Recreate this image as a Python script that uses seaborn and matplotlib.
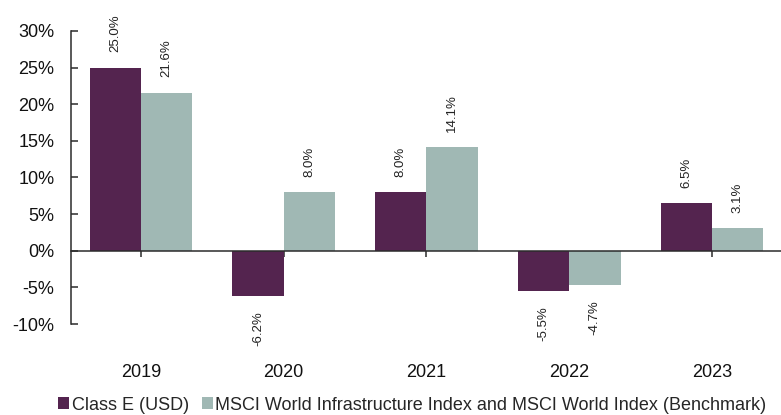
import matplotlib
matplotlib.use("Agg")
import matplotlib.pyplot as plt
import seaborn as sns
import pandas as pd
from matplotlib.patches import Patch
from matplotlib.transforms import blended_transform_factory

years = ["2019", "2020", "2021", "2022", "2023"]
class_e = [25.0, -6.2, 8.0, -5.5, 6.5]
benchmark = [21.6, 8.0, 14.1, -4.7, 3.1]
series_names = ["Class E (USD)",
                "MSCI World Infrastructure Index and MSCI World Index (Benchmark)"]
colors = ["#54244F", "#A0B8B4"]
yticks = [-10, -5, 0, 5, 10, 15, 20, 25, 30]

df = pd.DataFrame({
    "year": years * 2,
    "value": class_e + benchmark,
    "series": [series_names[0]] * len(years) + [series_names[1]] * len(years),
})

sns.set_style("white")
plt.rcParams["font.family"] = ["Liberation Sans", "DejaVu Sans"]

fig = plt.figure(figsize=(7.81, 4.15), dpi=100)
ax = fig.add_axes([71 / 781, 1 - 324 / 415, 710 / 781, 293 / 415])

sns.barplot(data=df, x="year", y="value", hue="series", palette=colors,
            width=0.72, ax=ax, legend=False, saturation=1, edgecolor="none")

for cont, vals in zip(ax.containers, [class_e, benchmark]):
    ax.bar_label(cont, labels=[f"{v:.1f}%" for v in vals], padding=11,
                 rotation=90, fontsize=9.5, color="#222222")

ax.set_xlim(-0.49, 4.484)
ax.set_ylim(-10, 30)
ax.set_yticks(yticks)
ax.set_yticklabels([f"{t}%" for t in yticks], fontsize=13)
ax.set_xlabel("")
ax.set_ylabel("")

for s in ["top", "right"]:
    ax.spines[s].set_visible(False)
ax.spines["left"].set_color("#2b2b2b")
ax.spines["left"].set_linewidth(1.1)
ax.spines["bottom"].set_position(("data", 0))
ax.spines["bottom"].set_color("#2b2b2b")
ax.spines["bottom"].set_linewidth(1.1)

ax.tick_params(axis="y", left=True, direction="in", length=5, width=1.1,
               color="#2b2b2b", pad=12, labelcolor="#111111")
ax.tick_params(axis="x", bottom=True, direction="out", length=4, width=1.1,
               color="#2b2b2b", labelbottom=False)
ax.set_xticks(range(len(years)))

trans = blended_transform_factory(ax.transData, ax.transAxes)
for i, y in enumerate(years):
    ax.text(i, -48 / 293, y, transform=trans, ha="center", va="center",
            fontsize=13, color="#111111")

handles = [Patch(facecolor=c, edgecolor="none") for c in colors]
fig.legend(handles, series_names, loc="center", bbox_to_anchor=(0.528, 0.024),
           ncol=2, frameon=False, fontsize=13, handlelength=0.6,
           handleheight=0.6, handletextpad=0.15, columnspacing=0.7,
           borderpad=0, borderaxespad=0)

fig.savefig("out.png", dpi=100)
